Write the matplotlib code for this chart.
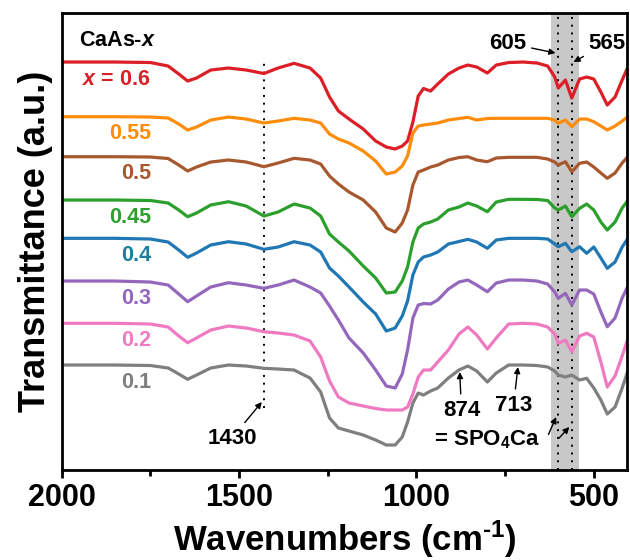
import matplotlib
matplotlib.use("Agg")
import matplotlib.pyplot as plt
from matplotlib.ticker import MultipleLocator, AutoMinorLocator

plt.rcParams['font.family'] = ['Liberation Sans', 'DejaVu Sans']
plt.rcParams['font.weight'] = 'bold'
plt.rcParams['mathtext.fontset'] = 'custom'
plt.rcParams['mathtext.rm'] = 'Liberation Sans:bold'
plt.rcParams['mathtext.it'] = 'Liberation Sans:italic:bold'
plt.rcParams['mathtext.bf'] = 'Liberation Sans:bold'

# FTIR spectra of CaAs-x, stacked (arbitrary units)
wavenumbers = [2000, 1850, 1750, 1700, 1670, 1645, 1620, 1580, 1530, 1480,
               1430, 1390, 1345, 1300, 1270, 1245, 1220, 1190, 1150, 1115,
               1085, 1060, 1040, 1025, 1010, 995, 980, 960, 940, 910,
               880, 855, 830, 800, 775, 740, 700, 660, 630, 610,
               600, 580, 562, 540, 520, 500, 480, 462, 440, 420, 405]

t_060 = [408, 408, 407.5, 404, 396, 389, 392, 400, 402, 400,
         396.5, 402, 406.7, 402, 392, 373, 359, 351, 341, 329,
         323, 321, 324, 329, 348, 374, 381.5, 379, 386, 396,
         402, 405, 403, 397, 405, 407.5, 408, 407, 404, 393,
         382, 390, 372, 391, 393, 391, 378, 365, 373, 390, 402]
t_055 = [353.3, 353.3, 353, 352, 346, 340, 343, 350, 353, 351,
         347, 349, 351.7, 350, 347, 336, 331, 327, 319, 309,
         296, 298, 304, 314, 337, 344, 345, 346, 347, 350,
         351.5, 352.7, 350, 351.5, 351.7, 351.7, 351.7, 351.7, 351.7, 350,
         346.7, 350, 343.3, 351, 351, 348.3, 344, 340, 344, 349, 353]
t_050 = [313.3, 313.3, 313, 311.5, 305, 299, 303, 308, 310, 308,
         303.3, 307, 311.7, 310, 306, 294, 286, 278, 270, 258,
         242, 238, 247, 260, 285, 298, 300, 303, 305, 310,
         312.5, 313.3, 310, 308.3, 312, 312.7, 312.7, 312.7, 311, 308,
         305, 308.3, 298.3, 306.7, 308, 303, 297, 291.7, 297, 307, 313]
t_045 = [270, 270, 269.5, 267, 260, 253.3, 257, 265, 268.3, 264,
         254, 258, 266, 262, 254, 236, 228, 219, 204, 192,
         177, 178, 189, 203, 228, 242, 246, 248, 251, 260,
         263, 267, 264, 258.3, 268, 270.7, 270.7, 270.5, 269.5, 262,
         260, 264, 253.3, 261.7, 266, 260, 248, 240, 248, 262, 269]
t_040 = [231.7, 231.7, 231, 228, 220, 212.7, 217, 225, 228.3, 226,
         220.7, 223, 228.3, 225, 218, 202, 194, 183, 168, 156,
         139, 142, 154, 169, 195, 208, 213, 215, 218, 226,
         228.5, 230.7, 228, 221.7, 230, 231.7, 231.7, 231.7, 231, 226,
         223.3, 226.7, 218.3, 223.3, 216.7, 223, 212, 201.7, 208, 223, 231]
t_030 = [189, 189, 188, 185, 176, 168.3, 174, 183, 187.3, 185,
         181.7, 185, 190, 183, 177, 164, 150, 132, 117, 100,
         84, 82, 96, 120, 152, 165, 166.5, 166, 170, 181,
         188, 190, 185, 178.3, 187, 190, 190, 189, 186, 178,
         171.7, 176.7, 165, 180, 180, 176, 158, 143.3, 152, 172, 183]
t_020 = [146.7, 146.7, 146, 143, 134, 127.3, 132, 140, 144, 142,
         138.3, 137, 135, 129, 113, 89, 73, 67, 64, 61.5,
         60, 60, 60, 63, 76, 93, 100, 100, 108, 120,
         136, 143, 135, 121, 132, 146, 146.7, 146, 143, 136,
         126.7, 130, 118.3, 134, 136.7, 133, 108, 83, 94, 114, 130]
t_010 = [105, 105, 104.5, 102, 96, 90.7, 95, 102, 105, 104,
         101.7, 101, 100, 92, 78, 52, 42, 39, 35, 30,
         25, 25, 33, 48, 67, 77, 75, 79, 82, 92,
         100, 104, 99, 88, 97, 105, 105, 104.5, 103, 99,
         95, 93, 95, 90, 91.7, 82, 70, 56, 63, 82, 98]

spectra = [t_060, t_055, t_050, t_045, t_040, t_030, t_020, t_010]
sample_labels = ['$x$ = 0.6', '0.55', '0.5', '0.45', '0.4', '0.3', '0.2', '0.1']
line_colors = ['#dc1e26', '#ff8c0a', '#a8582e', '#2ca02c', '#1f77b4',
               '#9467bd', '#f07ac2', '#7f7f7f']
label_colors = ['#dc1e26', '#ff8c0a', '#a8582e', '#2ca02c', '#18809e',
                '#9467bd', '#f07ac2', '#7f7f7f']

marked_peaks = [600, 562]   # dotted lines in the grey band
band = (620, 543)
carbonate_line = 1430

fig = plt.figure(figsize=(6.3, 5.6), dpi=100)
ax = fig.add_axes([0.098, 0.1607, 0.898, 0.8155])

ax.axvspan(band[0], band[1], color='#c8c8c8', lw=0, zorder=0)
for wn in marked_peaks:
    ax.axvline(wn, color='k', ls=(0, (1, 3)), lw=1.4, zorder=1)
ax.plot([carbonate_line, carbonate_line], [62, 408], color='k',
        ls=(0, (1, 3)), lw=1.4, zorder=1)

for vals, lab, lc, tc in zip(spectra, sample_labels, line_colors, label_colors):
    ax.plot(wavenumbers, vals, color=lc, lw=2.3, zorder=2,
            solid_joinstyle='round', solid_capstyle='round')
    ax.text(1749, vals[0] - 17, lab, color=tc, fontsize=15.5,
            fontweight='bold', ha='right', va='center')

ax.text(1951, 430, 'CaAs-$x$', fontsize=15.5, fontweight='bold',
        ha='left', va='center')

arrow = dict(arrowstyle='-|>', color='k', lw=1.0, mutation_scale=9,
             shrinkA=2, shrinkB=0)
ax.annotate('605', xy=(608, 417), xytext=(743, 427), fontsize=16,
            ha='center', va='center', arrowprops=arrow)
ax.annotate('565', xy=(557, 408), xytext=(462, 427), fontsize=16,
            ha='center', va='center', arrowprops=arrow)
ax.annotate('1430', xy=(1436, 68), xytext=(1520, 32), fontsize=16,
            ha='center', va='center', arrowprops=arrow)
ax.annotate('874', xy=(878, 98), xytext=(873, 60), fontsize=16,
            ha='center', va='center', arrowprops=arrow)
ax.annotate('713', xy=(714, 103), xytext=(726, 65), fontsize=16,
            ha='center', va='center', arrowprops=arrow)
ax.text(800, 30, '= SPO$_\\mathbf{4}$Ca', fontsize=16, ha='center',
        va='center')
ax.annotate('', xy=(606, 53), xytext=(631, 33), arrowprops=arrow)
ax.annotate('', xy=(569, 43), xytext=(603, 30), arrowprops=arrow)

ax.set_xlim(2000, 405)
ax.set_ylim(0, 456.7)
ax.xaxis.set_major_locator(MultipleLocator(500))
ax.xaxis.set_minor_locator(AutoMinorLocator(2))
ax.set_yticks([])
ax.tick_params(axis='x', which='major', direction='out', length=6,
               width=2, labelsize=22, pad=3)
ax.tick_params(axis='x', which='minor', direction='out', length=4, width=2)
for lbl in ax.get_xticklabels():
    lbl.set_fontweight('bold')
for sp in ax.spines.values():
    sp.set_linewidth(2)

ax.set_xlabel('Wavenumbers (cm$^{\\text{-}\\mathbf{1}}$)', fontsize=25,
              fontweight='bold', labelpad=4)
ax.set_ylabel('Transmittance (a.u.)', fontsize=26, fontweight='bold',
              labelpad=6)

fig.savefig('out.png', dpi=100)
